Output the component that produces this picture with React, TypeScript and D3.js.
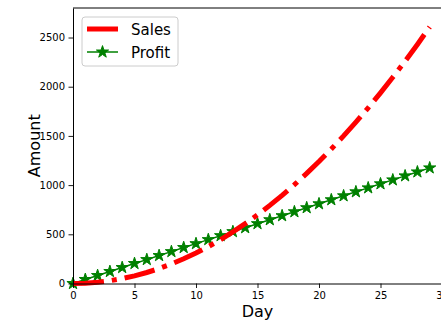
import { useEffect, useRef } from "react";
import * as d3 from "d3";

const days = [0, 1, 2, 3, 4, 5, 6, 7, 8, 9, 10, 11, 12, 13, 14, 15, 16, 17, 18, 19, 20, 21, 22, 23, 24, 25, 26, 27, 28, 29];
const sales = [0, 3, 12, 28, 50, 78, 112, 152, 198, 251, 310, 375, 446, 524, 608, 698, 794, 896, 1004, 1119, 1240, 1367, 1500, 1640, 1786, 1938, 2096, 2260, 2430, 2607];
const profit = [0, 41, 81, 122, 162, 203, 243, 284, 324, 365, 405, 446, 486, 527, 567, 608, 648, 689, 729, 770, 810, 851, 891, 932, 972, 1013, 1053, 1094, 1134, 1175];
const xTicks = [0, 5, 10, 15, 20, 25, 30];
const yTicks = [0, 500, 1000, 1500, 2000, 2500];

const App = () => {
  const ref = useRef<HTMLDivElement>(null);

  useEffect(() => {
    const width = 441;
    const height = 325;
    const margin = { top: 8, left: 73, bottom: 41.5 };
    const plotRight = 442;
    const font = "DejaVu Sans, sans-serif";

    const svg = d3
      .select(ref.current)
      .html("")
      .append("svg")
      .attr("width", width)
      .attr("height", height)
      .style("display", "block")
      .style("font-family", font);

    svg.append("rect").attr("width", width).attr("height", height).attr("fill", "#fff");

    const x = d3.scaleLinear().domain([0, 30]).range([margin.left, plotRight]);
    const y = d3
      .scaleLinear()
      .domain([0, 2800])
      .range([height - margin.bottom, margin.top]);

    const pts = days.map((d, i) => ({ d, s: sales[i], p: profit[i] }));

    // profit line + stars
    svg
      .append("path")
      .datum(pts)
      .attr("fill", "none")
      .attr("stroke", "green")
      .attr("stroke-width", 1.5)
      .attr("d", d3.line<any>().x((d) => x(d.d)).y((d) => y(d.p)));

    const star = d3.symbol().type(d3.symbolStar).size(46);
    svg
      .append("g")
      .selectAll("path")
      .data(pts)
      .enter()
      .append("path")
      .attr("transform", (d) => `translate(${x(d.d)},${y(d.p)})`)
      .attr("d", star()!)
      .attr("fill", "green")
      .attr("stroke", "green")
      .attr("stroke-width", 1);

    // sales line
    svg
      .append("path")
      .datum(pts)
      .attr("fill", "none")
      .attr("stroke", "red")
      .attr("stroke-width", 5)
      .attr("stroke-dasharray", "31 8 5 8")
      .attr("d", d3.line<any>().x((d) => x(d.d)).y((d) => y(d.s)));

    // axes
    const xAxis = svg
      .append("g")
      .attr("transform", `translate(0,${height - margin.bottom})`)
      .call(
        d3.axisBottom(x).tickValues(xTicks).tickFormat(d3.format("d")).tickSize(4.5).tickPadding(3.5).tickSizeOuter(0)
      );
    const yAxis = svg
      .append("g")
      .attr("transform", `translate(${margin.left},0)`)
      .call(
        d3.axisLeft(y).tickValues(yTicks).tickFormat(d3.format("d")).tickSize(4.5).tickPadding(3.5).tickSizeOuter(0)
      );
    [xAxis, yAxis].forEach((g) => {
      g.selectAll("text").attr("font-size", 10).attr("font-family", font).attr("fill", "#000");
      g.selectAll("line").attr("stroke", "#000").attr("stroke-width", 0.9);
      g.select(".domain").attr("stroke", "#000").attr("stroke-width", 1);
    });

    svg
      .append("line")
      .attr("x1", margin.left)
      .attr("x2", plotRight)
      .attr("y1", margin.top)
      .attr("y2", margin.top)
      .attr("stroke", "#000")
      .attr("stroke-width", 1);

    // axis labels
    svg
      .append("text")
      .attr("x", (margin.left + plotRight) / 2)
      .attr("y", 317)
      .attr("text-anchor", "middle")
      .attr("font-size", 16)
      .text("Day");
    svg
      .append("text")
      .attr("transform", `translate(40,${(margin.top + height - margin.bottom) / 2}) rotate(-90)`)
      .attr("text-anchor", "middle")
      .attr("font-size", 16)
      .text("Amount");

    // legend
    const lg = svg.append("g");
    lg.append("rect")
      .attr("x", 82)
      .attr("y", 17)
      .attr("width", 96)
      .attr("height", 49)
      .attr("rx", 3)
      .attr("fill", "#fff")
      .attr("fill-opacity", 0.8)
      .attr("stroke", "#ccc");
    lg.append("line")
      .attr("x1", 87).attr("x2", 118).attr("y1", 29).attr("y2", 29)
      .attr("stroke", "red").attr("stroke-width", 5);
    lg.append("text").attr("x", 131).attr("y", 34.5).attr("font-size", 15).text("Sales");
    lg.append("line")
      .attr("x1", 87).attr("x2", 118).attr("y1", 52).attr("y2", 52)
      .attr("stroke", "green").attr("stroke-width", 1.5);
    lg.append("path")
      .attr("transform", "translate(102.5,52)")
      .attr("d", star()!)
      .attr("fill", "green")
      .attr("stroke", "green");
    lg.append("text").attr("x", 131).attr("y", 57.5).attr("font-size", 15).text("Profit");
  }, []);

  return <div ref={ref} style={{ position: "absolute", left: 0, top: 0 }} />;
};

export default App;
